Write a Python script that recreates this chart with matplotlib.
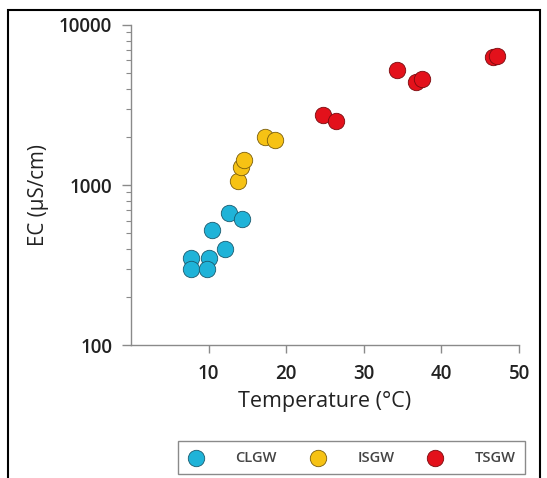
import matplotlib
matplotlib.use("Agg")
import matplotlib.pyplot as plt
from matplotlib.patches import Rectangle
from matplotlib.ticker import LogLocator, NullFormatter

plt.rcParams['font.family'] = ['Open Sans', 'DejaVu Sans']

# groundwater groups: temperature (°C) vs electrical conductivity (µS/cm)
clgw_temp = [7.7, 7.7, 10.0, 9.8, 10.4, 12.1, 12.6, 14.3]
clgw_ec = [352, 300, 352, 300, 520, 400, 670, 615]

isgw_temp = [13.8, 14.2, 14.6, 17.2, 18.6]
isgw_ec = [1060, 1300, 1430, 1990, 1900]

tsgw_temp = [24.7, 26.4, 34.3, 36.7, 37.5, 46.6, 47.2]
tsgw_ec = [2750, 2530, 5200, 4400, 4630, 6300, 6400]

groups = ['CLGW', 'ISGW', 'TSGW']
colors = ['#1fb3d8', '#f6c214', '#e3111b']
edges = ['#1b5a6e', '#7a5d0c', '#7a0a0e']

fig = plt.figure(figsize=(5.47, 4.78), dpi=100)
ax = fig.add_axes([0.2395, 0.2782, 0.7095, 0.6695])

data = [(clgw_temp, clgw_ec), (isgw_temp, isgw_ec), (tsgw_temp, tsgw_ec)]
handles = []
for (t, ec), name, c, e in zip(data, groups, colors, edges):
    h = ax.scatter(t, ec, s=140, color=c, edgecolors=e, linewidths=0.6,
                   label=name, zorder=3)
    handles.append(h)

ax.set_yscale('log')
ax.set_xlim(0, 50)
ax.set_ylim(100, 10000)
ax.set_xticks([10, 20, 30, 40, 50])
ax.set_yticks([100, 1000, 10000])
ax.set_yticklabels(['100', '1000', '10000'])
ax.yaxis.set_minor_locator(LogLocator(base=10, subs=range(2, 10)))
ax.yaxis.set_minor_formatter(NullFormatter())

for s in ['top', 'right']:
    ax.spines[s].set_visible(False)
for s in ['left', 'bottom']:
    ax.spines[s].set_color('#8a8a8a')
    ax.spines[s].set_linewidth(1.0)

ax.tick_params(axis='y', which='major', length=6.5, width=1, color='#8a8a8a',
               pad=7, labelsize=13.5, labelcolor='#222222')
ax.tick_params(axis='y', which='minor', length=3.5, width=0.8, color='#8a8a8a')
ax.tick_params(axis='x', which='major', length=6, width=1, color='#8a8a8a',
               pad=8, labelsize=13.5, labelcolor='#222222')
for lab in ax.get_xticklabels() + ax.get_yticklabels():
    lab.set_fontweight('semibold')

ax.set_xlabel('Temperature (°C)', fontsize=15.5, color='#222222', labelpad=5)
ax.set_ylabel('EC (µS/cm)', fontsize=14.8, color='#222222', labelpad=7)
ax.yaxis.label.set_y(0.47)

# legend box below the plot
leg = fig.legend(handles, groups, loc='center', ncol=3,
                 bbox_to_anchor=(351.5 / 547, 1 - 457.5 / 478),
                 fontsize=10.5, handlelength=1.2, handletextpad=2.1,
                 columnspacing=2.2, fancybox=False, edgecolor='#8a8a8a',
                 framealpha=1, borderpad=0.65, borderaxespad=0)
leg.get_frame().set_linewidth(1.0)
for txt in leg.get_texts():
    txt.set_color('#444444')
    txt.set_fontweight('semibold')

# outer black frame (bottom edge cut off)
fig.patches.append(Rectangle((8 / 547, -0.05), 532 / 547, 1.05 - 10 / 478,
                             transform=fig.transFigure, fill=False,
                             edgecolor='black', linewidth=1.5))

fig.savefig('out.png', dpi=100)
